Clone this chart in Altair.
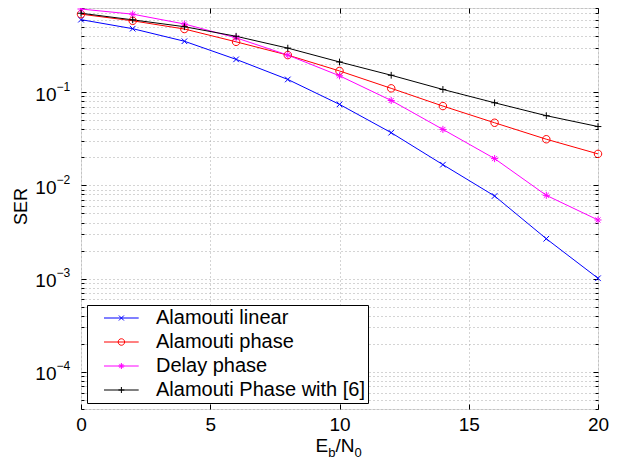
import altair as alt
import pandas as pd

# ---- data ----
snr = [0, 2, 4, 6, 8, 10, 12, 14, 16, 18, 20]
alamouti_linear = [0.60, 0.48, 0.352, 0.225, 0.137, 0.074, 0.0368, 0.0167, 0.0077, 0.00268, 0.00101]
alamouti_phase = [0.687, 0.583, 0.476, 0.347, 0.25, 0.169, 0.110, 0.071, 0.047, 0.0313, 0.0218]
delay_phase = [0.78, 0.687, 0.539, 0.383, 0.25, 0.15, 0.0815, 0.0399, 0.0194, 0.00783, 0.00426]
alamouti_phase_6 = [0.703, 0.597, 0.504, 0.398, 0.297, 0.211, 0.152, 0.107, 0.077, 0.056, 0.0428]

series_names = ["Alamouti linear", "Alamouti phase", "Delay phase", "Alamouti Phase with [6]"]
series_values = [alamouti_linear, alamouti_phase, delay_phase, alamouti_phase_6]
series_colors = ["#0000ff", "#ff0000", "#ff00ff", "#000000"]

x_ticks = [0, 5, 10, 15, 20]
y_decades = [1e-1, 1e-2, 1e-3, 1e-4]
y_all = [m * 10.0 ** k for k in range(-5, 0) for m in range(1, 10)
         if 3.99e-5 <= m * 10.0 ** k <= 0.801]
y_minor = [v for v in y_all if v not in y_decades]

# marker shapes (plot) and legend symbols (line + marker)
marker_paths = [
    "M-0.75,-0.75L0.75,0.75M-0.75,0.75L0.75,-0.75",
    "M1,0A1,1,0,1,1,-1,0A1,1,0,1,1,1,0",
    "M-0.95,0L0.95,0M0,-0.95L0,0.95M-0.67,-0.67L0.67,0.67M-0.67,0.67L0.67,-0.67",
    "M-0.9,0L0.9,0M0,-0.9L0,0.9",
]
LINE = "M0.8,0L7.74,0"
legend_paths = [
    LINE + "M3.78,-0.5L4.78,0.5M3.78,0.5L4.78,-0.5",
    LINE + "M4.93,0A0.65,0.65,0,1,1,3.63,0A0.65,0.65,0,1,1,4.93,0",
    LINE + "M3.68,0L4.88,0M4.28,-0.6L4.28,0.6M3.86,-0.42L4.7,0.42M3.86,0.42L4.7,-0.42",
    LINE + "M3.68,0L4.88,0M4.28,-0.6L4.28,0.6",
]

rows = []
for name, vals in zip(series_names, series_values):
    for xv, yv in zip(snr, vals):
        rows.append({"snr": xv, "ser": yv, "series": name})
df = pd.DataFrame(rows)

F = "Liberation Sans"
W, H = 517, 401

xscale = alt.Scale(domain=[0, 20], nice=False)
yscale = alt.Scale(type="log", domain=[4e-5, 0.8], nice=False)


def color_enc(legend=None):
    return alt.Color("series:N", scale=alt.Scale(domain=series_names, range=series_colors),
                     legend=legend)


def off_axis(**kw):
    base = dict(domain=False, ticks=False, labels=False, grid=False, title=None)
    base.update(kw)
    return alt.Axis(**base)


def X(axis):
    return alt.X("snr:Q", scale=xscale, axis=axis)


def Y(axis):
    return alt.Y("ser:Q", scale=yscale, axis=axis)


tick_style = dict(tickColor="black", tickWidth=1)
lab_style = dict(labelFont=F, labelColor="black", labelFlush=False, labelOverlap=False)
title_style = dict(titleFont=F, titleColor="black", titleFontWeight="normal")
grid_style = dict(grid=True, gridDash=[1, 3], gridColor="#a8a8a8", gridWidth=1)

# L1: lines; bottom labels + ticks; left "10" labels + major ticks
l1 = alt.Chart(df).mark_line(strokeWidth=1).encode(
    x=X(alt.Axis(orient="bottom", values=x_ticks, domain=False, grid=False, title=None, ticks=True,
                 tickSize=5, offset=-5, labels=True, labelPadding=6, labelFontSize=19,
                 **lab_style, **tick_style)),
    y=Y(alt.Axis(orient="left", values=y_decades, domain=False, grid=False, title=None, ticks=True,
                 tickSize=5, offset=-5, labels=True, labelExpr="'10'", labelPadding=25,
                 labelFontSize=19, labelBaseline="middle", labelOffset=2, **lab_style, **tick_style)),
    color=color_enc(),
    detail="series:N",
)

# L2: visible markers; top and right major ticks
l2 = alt.Chart(df).mark_point(filled=False, size=56, strokeWidth=1, opacity=1).encode(
    x=X(off_axis(orient="top", values=x_ticks, ticks=True, tickSize=5, offset=-5, **tick_style)),
    y=Y(off_axis(orient="right", values=y_decades, ticks=True, tickSize=5, offset=-5, **tick_style)),
    color=color_enc(),
    shape=alt.Shape("series:N", scale=alt.Scale(domain=series_names, range=marker_paths), legend=None),
)

legend = alt.Legend(orient="none", legendX=6, legendY=297, title=None, padding=3,
                    symbolSize=100, symbolStrokeWidth=1, symbolOpacity=1, labelOffset=46,
                    labelFontSize=20, labelFont=F, labelColor="black", labelLimit=400,
                    rowPadding=4, strokeColor="black", fillColor="white")

# L3: invisible points that carry the legend; grids + SER title
l3 = alt.Chart(df).mark_point(filled=False, opacity=0).encode(
    x=X(off_axis(orient="bottom", values=x_ticks, **grid_style)),
    y=Y(off_axis(orient="left", values=y_all, **grid_style,
                 title="SER", titleX=-60, titleY=198, titleAngle=-90, titleAlign="center",
                 titleBaseline="middle", titleFontSize=18, **title_style)),
    color=color_enc(legend),
    shape=alt.Shape("series:N", scale=alt.Scale(domain=series_names, range=legend_paths),
                    legend=legend),
)


def ghost(xaxis, yaxis):
    return alt.Chart(df).mark_line(opacity=0).encode(x=X(xaxis), y=Y(yaxis), detail="series:N")


def xtitle(text, tx, ty, size):
    return off_axis(orient="bottom", title=text, titleX=tx, titleY=ty, titleAlign="left",
                    titleBaseline="alphabetic", titleFontSize=size, titleAngle=0,
                    titleAnchor="start", **title_style)


l4 = ghost(xtitle("E", 234, 42, 19),
           off_axis(orient="left", values=y_minor, ticks=True, tickSize=3, offset=-3, **tick_style))
l5 = ghost(xtitle("b", 246.7, 47, 13),
           off_axis(orient="right", values=y_minor, ticks=True, tickSize=3, offset=-3, **tick_style))
l6 = ghost(xtitle("/N", 254, 42, 19),
           off_axis(orient="left", values=y_decades, labels=True,
                    labelExpr="['\u22121','\u22122','\u22123','\u22124'][round(-log(datum.value)/LN10)-1]",
                    labelAlign="left", labelPadding=25, labelFontSize=12, labelBaseline="middle",
                    labelOffset=-6, **lab_style))
l7 = ghost(xtitle("0", 273, 47, 13), None)

chart = alt.layer(l1, l2, l3, l4, l5, l6, l7).resolve_scale(
    color="independent", shape="independent"
).resolve_axis(
    x="independent", y="independent"
).properties(
    width=W, height=H, autosize="none",
    padding={"left": 73, "top": 0, "right": 13, "bottom": 50},
).configure_view(
    stroke="black", strokeWidth=1.5
).configure(background="white")

chart.save("out.html", embed_options={"renderer": "svg", "actions": False})
